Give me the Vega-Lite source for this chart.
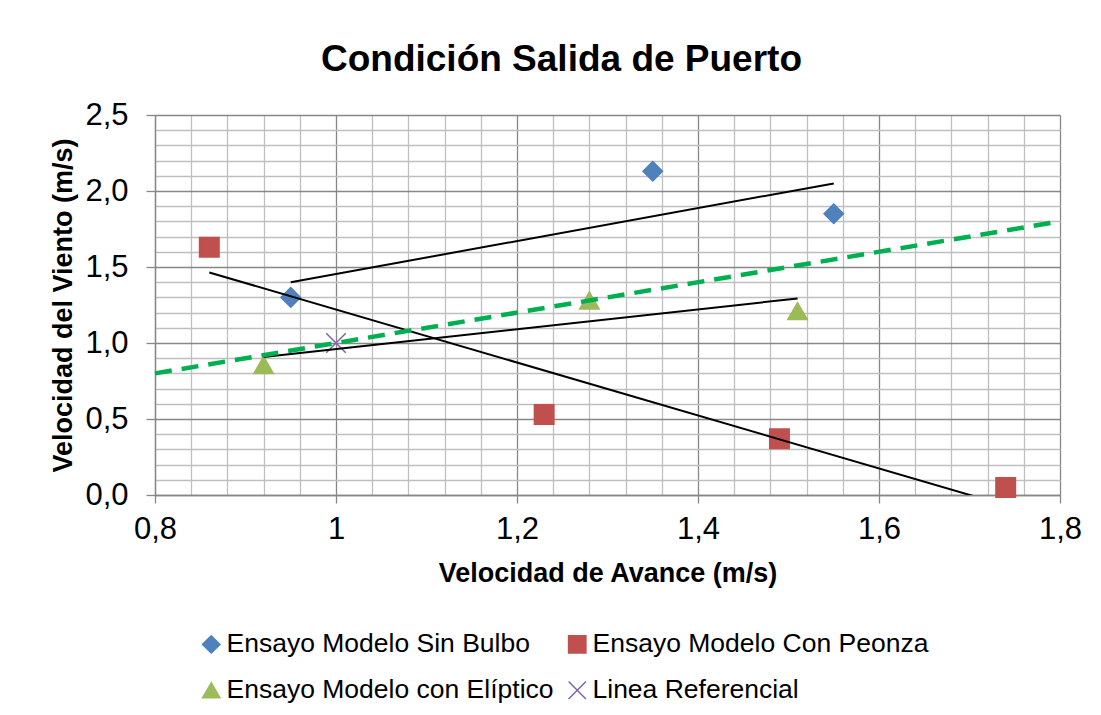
{
  "$schema": "https://vega.github.io/schema/vega-lite/v6.json",
  "width": 905,
  "height": 380,
  "autosize": {"type": "none"},
  "padding": {"left": 155, "top": 115, "right": 41, "bottom": 220},
  "background": "white",
  "config": {"font": "Liberation Sans", "view": {"stroke": null}},
  "title": {
    "text": "Condición Salida de Puerto",
    "fontSize": 37,
    "fontWeight": "bold",
    "color": "black",
    "anchor": "middle",
    "frame": "group",
    "baseline": "alphabetic",
    "offset": -9,
    "dx": -46
  },
  "datasets": {
    "pts": [
      {"serie": "Ensayo Modelo Sin Bulbo", "x": 0.95, "y": 1.30},
      {"serie": "Ensayo Modelo Sin Bulbo", "x": 1.35, "y": 2.13},
      {"serie": "Ensayo Modelo Sin Bulbo", "x": 1.55, "y": 1.85},
      {"serie": "Ensayo Modelo Con Peonza", "x": 0.86, "y": 1.63},
      {"serie": "Ensayo Modelo Con Peonza", "x": 1.23, "y": 0.53},
      {"serie": "Ensayo Modelo Con Peonza", "x": 1.49, "y": 0.37},
      {"serie": "Ensayo Modelo Con Peonza", "x": 1.74, "y": 0.05},
      {"serie": "Ensayo Modelo con Elíptico", "x": 0.92, "y": 0.855},
      {"serie": "Ensayo Modelo con Elíptico", "x": 1.28, "y": 1.28},
      {"serie": "Ensayo Modelo con Elíptico", "x": 1.51, "y": 1.21},
      {"serie": "Linea Referencial", "x": 1.0, "y": 1.0}
    ],
    "trend": [
      {"linea": "Sin Bulbo", "x": 0.95, "y": 1.40},
      {"linea": "Sin Bulbo", "x": 1.55, "y": 2.05},
      {"linea": "Con Peonza", "x": 0.86, "y": 1.464},
      {"linea": "Con Peonza", "x": 1.74, "y": -0.069},
      {"linea": "con Elíptico", "x": 0.92, "y": 0.908},
      {"linea": "con Elíptico", "x": 1.51, "y": 1.293}
    ],
    "ref": [
      {"x": 0.8, "y": 0.8},
      {"x": 1.8, "y": 1.8}
    ]
  },
  "encoding": {
    "x": {
      "field": "x",
      "type": "quantitative",
      "scale": {"domain": [0.8, 1.8], "nice": false, "zero": false},
      "axis": {
        "title": "Velocidad de Avance (m/s)",
        "titleFontSize": 27,
        "titleFontWeight": "bold",
        "titleColor": "black",
        "titlePadding": 16,
        "values": [0.8, 0.84, 0.88, 0.92, 0.96, 1, 1.04, 1.08, 1.12, 1.16, 1.2, 1.24, 1.28, 1.32, 1.36, 1.4, 1.44, 1.48, 1.52, 1.56, 1.6, 1.64, 1.68, 1.72, 1.76, 1.8],
        "labelExpr": "abs(datum.value*5-round(datum.value*5))<0.001 ? replace(format(datum.value,'.1~f'),'.',',') : ''",
        "labelFontSize": 31,
        "labelColor": "black",
        "labelPadding": 11,
        "labelOverlap": false,
        "labelBound": false,
        "labelFlush": false,
        "grid": true,
        "gridColor": {"condition": {"test": "abs(datum.value*5-round(datum.value*5))<0.001", "value": "#878787"}, "value": "#BFBFBF"},
        "gridWidth": 1.3,
        "tickSize": 8,
        "tickColor": "#878787",
        "tickWidth": 1.3,
        "tickOpacity": {"condition": {"test": "abs(datum.value*5-round(datum.value*5))<0.001", "value": 1}, "value": 0},
        "domainColor": "#878787",
        "domainWidth": 1.3
      }
    },
    "y": {
      "field": "y",
      "type": "quantitative",
      "scale": {"domain": [0, 2.5], "nice": false, "zero": false},
      "axis": {
        "title": "Velocidad del Viento (m/s)",
        "titleFontSize": 27,
        "titleFontWeight": "bold",
        "titleColor": "black",
        "titlePadding": 7,
        "values": [0, 0.1, 0.2, 0.3, 0.4, 0.5, 0.6, 0.7, 0.8, 0.9, 1, 1.1, 1.2, 1.3, 1.4, 1.5, 1.6, 1.7, 1.8, 1.9, 2, 2.1, 2.2, 2.3, 2.4, 2.5],
        "labelExpr": "abs(datum.value*2-round(datum.value*2))<0.001 ? replace(format(datum.value,'.1f'),'.',',') : ''",
        "labelFontSize": 31,
        "labelColor": "black",
        "labelPadding": 18,
        "labelOverlap": false,
        "labelBound": false,
        "labelFlush": false,
        "grid": true,
        "gridColor": {"condition": {"test": "abs(datum.value*2-round(datum.value*2))<0.001", "value": "#878787"}, "value": "#BFBFBF"},
        "gridWidth": 1.3,
        "tickSize": 9,
        "tickColor": "#878787",
        "tickWidth": 1.3,
        "tickOpacity": {"condition": {"test": "abs(datum.value*2-round(datum.value*2))<0.001", "value": 1}, "value": 0},
        "domainColor": "#878787",
        "domainWidth": 1.3
      }
    }
  },
  "layer": [
    {
      "data": {"name": "pts"},
      "mark": {"type": "point", "filled": true, "size": 380, "opacity": 1, "strokeWidth": 1.5},
      "encoding": {
        "fill": {
          "field": "serie",
          "type": "nominal",
          "scale": {
            "domain": ["Ensayo Modelo Sin Bulbo", "Ensayo Modelo Con Peonza", "Ensayo Modelo con Elíptico", "Linea Referencial"],
            "range": ["#4F81BD", "#C0504D", "#9BBB59", "#8064A2"]
          },
          "legend": {
            "title": null,
            "orient": "none",
            "legendX": 43,
            "legendY": 516,
            "direction": "horizontal",
            "columns": 2,
            "columnPadding": 10,
            "rowPadding": 19,
            "padding": 0,
            "labelFontSize": 26.5,
            "labelColor": "black",
            "labelOffset": 2,
            "labelLimit": 0,
            "symbolSize": 300,
            "symbolStrokeWidth": 1.5,
            "symbolOpacity": 1
          }
        },
        "stroke": {
          "field": "serie",
          "type": "nominal",
          "scale": {
            "domain": ["Ensayo Modelo Sin Bulbo", "Ensayo Modelo Con Peonza", "Ensayo Modelo con Elíptico", "Linea Referencial"],
            "range": ["#4F81BD", "#C0504D", "#9BBB59", "#8064A2"]
          }
        },
        "shape": {
          "field": "serie",
          "type": "nominal",
          "scale": {
            "domain": ["Ensayo Modelo Sin Bulbo", "Ensayo Modelo Con Peonza", "Ensayo Modelo con Elíptico", "Linea Referencial"],
            "range": ["diamond", "square", "triangle-up", "M-1,-1L1,1M-1,1L1,-1"]
          }
        }
      }
    },
    {
      "data": {"name": "trend"},
      "mark": {"type": "line", "color": "black", "strokeWidth": 2, "clip": true},
      "encoding": {
        "detail": {"field": "linea", "type": "nominal"}
      }
    },
    {
      "data": {"name": "ref"},
      "mark": {"type": "line", "color": "#00B050", "strokeWidth": 4.5, "strokeDash": [17, 10]},
      "encoding": {}
    }
  ]
}
